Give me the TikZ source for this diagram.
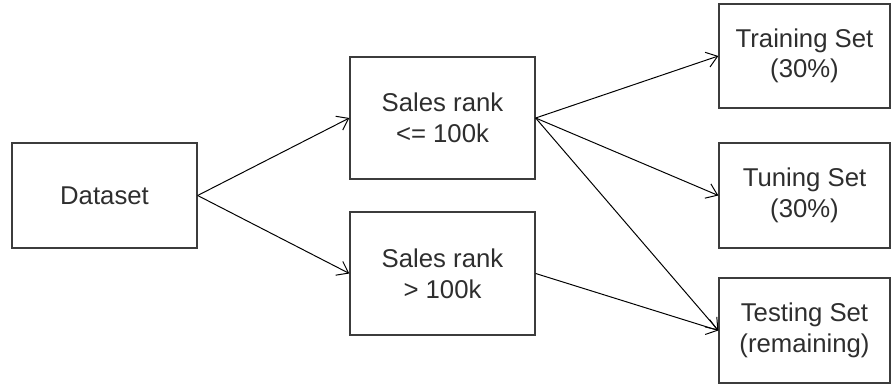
\documentclass[tikz,border=0pt]{standalone}
\usepackage{fontspec}
\setmainfont{Liberation Sans}
\usetikzlibrary{arrows.meta}
\definecolor{boxline}{HTML}{3C3C3C}
\definecolor{labeltext}{HTML}{2E2E2E}
\tikzset{
  setbox/.style={draw=boxline,line width=0.9pt,align=center,text=labeltext,
    inner sep=0pt,font=\fontsize{18.3}{21.8}\selectfont},
  split/.style={-{Straight Barb[length=7.5pt,width=11pt]},line width=0.7pt},
}

\begin{document}
\begin{tikzpicture}[x=0.025cm,y=-0.025cm]
  \useasboundingbox (0,0) rectangle (896,386);
  \node[setbox,minimum width=4.625cm,minimum height=2.625cm] (data) at (104.5,195.5) {Dataset};
  \node[setbox,minimum width=4.625cm,minimum height=3.05cm] (low) at (442.5,118) {Sales rank\\<= 100k};
  \node[setbox,minimum width=4.625cm,minimum height=3.075cm] (high) at (442.5,273.5) {Sales rank\\> 100k};
  \node[setbox,minimum width=4.275cm,minimum height=2.6cm] (train) at (804.5,56) {Training Set\\(30\%)};
  \node[setbox,minimum width=4.275cm,minimum height=2.625cm] (tune) at (804.5,195.5) {Tuning Set\\(30\%)};
  \node[setbox,minimum width=4.275cm,minimum height=2.625cm] (test) at (804.5,330.5) {Testing Set\\(remaining)};
  % split by sales rank
  \draw[split] (data.east) -- (low.west);
  \draw[split] (data.east) -- (high.west);
  % low rank goes to all three sets
  \draw[split] (low.east) -- (train.west);
  \draw[split] (low.east) -- (tune.west);
  \draw[split] (low.east) -- (test.west);
  \draw[split] (high.east) -- (test.west);
\end{tikzpicture}
\end{document}
